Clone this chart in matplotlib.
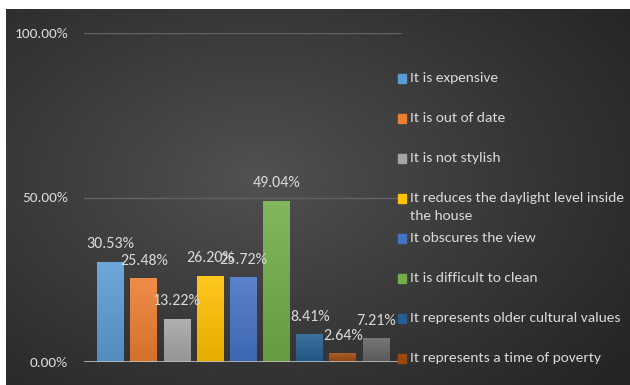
import numpy as np
import matplotlib.pyplot as plt
from matplotlib.colors import to_rgb
from matplotlib.patches import Rectangle

plt.rcParams['font.family'] = ['Carlito', 'Roboto Condensed', 'Liberation Sans Narrow', 'DejaVu Sans']

reasons = ['It is expensive', 'It is out of date', 'It is not stylish',
           'It reduces the daylight level inside\nthe house', 'It obscures the view',
           'It is difficult to clean', 'It represents older cultural values',
           'It represents a time of poverty']
shares = [30.53, 25.48, 13.22, 26.20, 25.72, 49.04, 8.41, 2.64, 7.21]
colors = ['#5B9BD5', '#ED7D31', '#A5A5A5', '#FFC000', '#4472C4',
          '#70AD47', '#255E91', '#9E480E', '#636363']
yticks = [0, 50, 100]
ytick_labels = ['0.00%', '50.00%', '100.00%']

text_col = '#d9d9d9'
W, H = 630, 385

fig = plt.figure(figsize=(6.3, 3.85), dpi=100)
fig.patch.set_facecolor('white')

# dark radial background
bg = fig.add_axes([6 / W, 0, 624 / W, 376 / H])
bg.set_axis_off()
yy, xx = np.mgrid[0:1:300j, 0:1:500j]
r = np.sqrt(((xx - 0.4) / 0.75) ** 2 + ((yy - 0.55) / 0.8) ** 2)
r = np.clip(r, 0, 1)
c0 = np.array([0x52, 0x52, 0x52]) / 255
c1 = np.array([0x25, 0x25, 0x25]) / 255
img = c0 + (c1 - c0) * r[..., None] ** 0.9
bg.imshow(img, extent=[0, 1, 0, 1], aspect='auto', origin='lower')
bg.set_xlim(0, 1)
bg.set_ylim(0, 1)

ax = fig.add_axes([84 / W, 23 / H, 318 / W, 329 / H])
ax.patch.set_alpha(0)
for s in ax.spines.values():
    s.set_visible(False)

x = np.arange(len(shares))
bars = ax.bar(x, shares, width=0.81, color=colors, zorder=3)

# vertical shading inside each bar
for b, c in zip(bars, colors):
    base = np.array(to_rgb(c))
    top = base + (1 - base) * 0.12
    bot = base * 0.9
    g = np.linspace(0, 1, 64)[:, None, None]
    grad = bot + (top - bot) * g
    im = ax.imshow(grad, extent=[b.get_x(), b.get_x() + b.get_width(), 0, b.get_height()],
                   aspect='auto', origin='lower', zorder=3.5)
    im.set_clip_path(b)

for xi, v in zip(x, shares):
    ax.annotate(f'{v:.2f}%', (xi, v), xytext=(0, 12.5), textcoords='offset points',
                ha='center', va='center', color=text_col, fontsize=11.5, zorder=5)

ax.set_xlim(-0.8, 8.78)
ax.set_ylim(0, 100)
ax.set_xticks([])
ax.set_yticks(yticks)
ax.set_yticklabels(ytick_labels)
ax.tick_params(axis='y', length=0, pad=11.5, labelcolor=text_col, labelsize=11.1)
ax.grid(axis='y', color='#626262', linewidth=1, zorder=0)
ax.axhline(0, color='#bfbfbf', linewidth=1.2, zorder=4)

# legend entries down the right side
for i, (lab, c) in enumerate(zip(reasons, colors)):
    ypx = 78 + 40 * i
    fig.patches.append(Rectangle((398 / W, 1 - (ypx + 5) / H), 8 / W, 9 / H,
                                 transform=fig.transFigure, color=c, figure=fig))
    fig.text(410 / W, 1 - (ypx - 6) / H, lab, color=text_col, fontsize=11.1,
             ha='left', va='top', linespacing=1.6)

fig.savefig('out.png', dpi=100)
